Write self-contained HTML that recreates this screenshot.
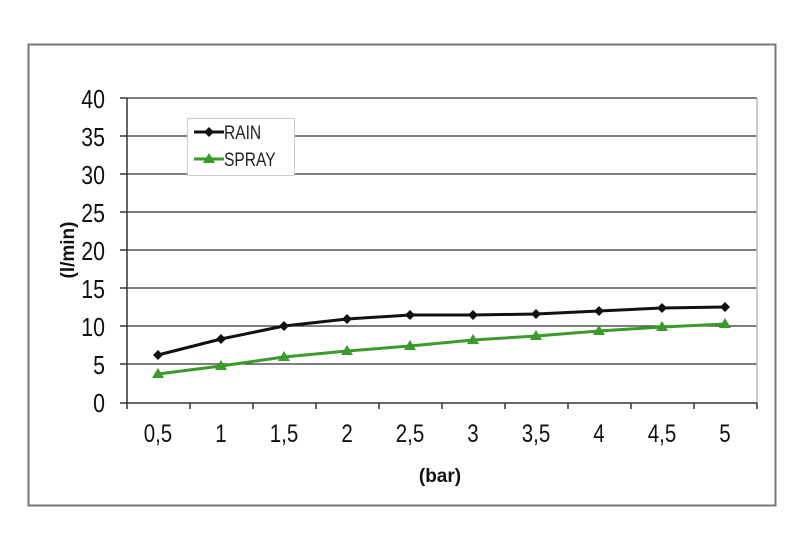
<!DOCTYPE html>
<html><head><meta charset="utf-8"><style>
html,body{margin:0;padding:0;background:#fff;}
svg{display:block;}
text{font-family:"Liberation Sans",sans-serif;}
</style></head><body>
<svg width="800" height="538" viewBox="0 0 800 538">
<rect x="0" y="0" width="800" height="538" fill="#fff"/>
<rect x="28.5" y="44.5" width="747" height="461" fill="#fff" stroke="#777" stroke-width="2"/>
<g stroke="#333" stroke-width="1.3">
<line x1="127" y1="98" x2="757" y2="98"/>
<line x1="127" y1="136" x2="757" y2="136"/>
<line x1="127" y1="174" x2="757" y2="174"/>
<line x1="127" y1="212" x2="757" y2="212"/>
<line x1="127" y1="250" x2="757" y2="250"/>
<line x1="127" y1="288" x2="757" y2="288"/>
<line x1="127" y1="326" x2="757" y2="326"/>
<line x1="127" y1="364" x2="757" y2="364"/>
</g>
<line x1="757" y1="98" x2="757" y2="403" stroke="#bbb" stroke-width="1.5"/>
<g stroke="#333" stroke-width="1.5">
<line x1="127" y1="98" x2="127" y2="409"/>
<line x1="120" y1="403" x2="757" y2="403"/>
<line x1="120" y1="98" x2="127" y2="98"/><line x1="120" y1="136" x2="127" y2="136"/>
<line x1="120" y1="174" x2="127" y2="174"/><line x1="120" y1="212" x2="127" y2="212"/>
<line x1="120" y1="250" x2="127" y2="250"/><line x1="120" y1="288" x2="127" y2="288"/>
<line x1="120" y1="326" x2="127" y2="326"/><line x1="120" y1="364" x2="127" y2="364"/>
<line x1="190" y1="403" x2="190" y2="409"/><line x1="253" y1="403" x2="253" y2="409"/>
<line x1="316" y1="403" x2="316" y2="409"/><line x1="379" y1="403" x2="379" y2="409"/>
<line x1="442" y1="403" x2="442" y2="409"/><line x1="505" y1="403" x2="505" y2="409"/>
<line x1="568" y1="403" x2="568" y2="409"/><line x1="631" y1="403" x2="631" y2="409"/>
<line x1="694" y1="403" x2="694" y2="409"/><line x1="757" y1="403" x2="757" y2="409"/>
</g>
<g font-size="26" fill="#111" text-anchor="end" transform="scale(0.82,1)">
<text x="128" y="108">40</text><text x="128" y="146">35</text><text x="128" y="184">30</text>
<text x="128" y="222">25</text><text x="128" y="260">20</text><text x="128" y="298">15</text>
<text x="128" y="336">10</text><text x="128" y="374">5</text><text x="128" y="412">0</text>
</g>
<g font-size="25" fill="#111" text-anchor="middle">
<text x="158" y="442" transform="translate(28.4,0) scale(0.82,1)">0,5</text>
<text x="221" y="442" transform="translate(39.8,0) scale(0.82,1)">1</text>
<text x="284" y="442" transform="translate(51.1,0) scale(0.82,1)">1,5</text>
<text x="347" y="442" transform="translate(62.5,0) scale(0.82,1)">2</text>
<text x="410" y="442" transform="translate(73.8,0) scale(0.82,1)">2,5</text>
<text x="473" y="442" transform="translate(85.1,0) scale(0.82,1)">3</text>
<text x="536" y="442" transform="translate(96.5,0) scale(0.82,1)">3,5</text>
<text x="599" y="442" transform="translate(107.8,0) scale(0.82,1)">4</text>
<text x="662" y="442" transform="translate(119.2,0) scale(0.82,1)">4,5</text>
<text x="725" y="442" transform="translate(130.5,0) scale(0.82,1)">5</text>
</g>
<text x="440" y="482" font-size="19" font-weight="bold" fill="#111" text-anchor="middle">(bar)</text>
<text transform="translate(74,250) rotate(-90)" font-size="19" font-weight="bold" fill="#111" text-anchor="middle">(l/min)</text>
<polyline fill="none" stroke="#111" stroke-width="3" points="158,355 221,339 284,326 347,319 410,315 473,315 536,314 599,311 662,308 725,307"/>
<g fill="#111">
<path d="M158,350 l5,5 l-5,5 l-5,-5z"/><path d="M221,334 l5,5 l-5,5 l-5,-5z"/>
<path d="M284,321 l5,5 l-5,5 l-5,-5z"/><path d="M347,314 l5,5 l-5,5 l-5,-5z"/>
<path d="M410,310 l5,5 l-5,5 l-5,-5z"/><path d="M473,310 l5,5 l-5,5 l-5,-5z"/>
<path d="M536,309 l5,5 l-5,5 l-5,-5z"/><path d="M599,306 l5,5 l-5,5 l-5,-5z"/>
<path d="M662,303 l5,5 l-5,5 l-5,-5z"/><path d="M725,302 l5,5 l-5,5 l-5,-5z"/>
</g>
<polyline fill="none" stroke="#3a9a2a" stroke-width="3" points="158,374 221,366 284,357 347,351 410,346 473,340 536,336 599,331 662,327 725,324"/>
<g fill="#3a9a2a">
<path d="M158,368 l6,10 h-12z"/><path d="M221,360 l6,10 h-12z"/>
<path d="M284,351 l6,10 h-12z"/><path d="M347,345 l6,10 h-12z"/>
<path d="M410,340 l6,10 h-12z"/><path d="M473,334 l6,10 h-12z"/>
<path d="M536,330 l6,10 h-12z"/><path d="M599,325 l6,10 h-12z"/>
<path d="M662,321 l6,10 h-12z"/><path d="M725,318 l6,10 h-12z"/>
</g>
<rect x="187.5" y="118.5" width="107" height="57" fill="#fff" stroke="#ccc" stroke-width="1"/>
<line x1="194" y1="132" x2="224" y2="132" stroke="#111" stroke-width="3"/>
<path d="M209,127 l5,5 l-5,5 l-5,-5z" fill="#111"/>
<line x1="194" y1="159" x2="224" y2="159" stroke="#3a9a2a" stroke-width="3"/>
<path d="M209,153 l6,10 h-12z" fill="#3a9a2a"/>
<text x="224" y="139" font-size="19" fill="#222" transform="translate(40.3,0) scale(0.82,1)">RAIN</text>
<text x="224" y="166" font-size="19" fill="#222" transform="translate(40.3,0) scale(0.82,1)">SPRAY</text>
</svg>
</body></html>
